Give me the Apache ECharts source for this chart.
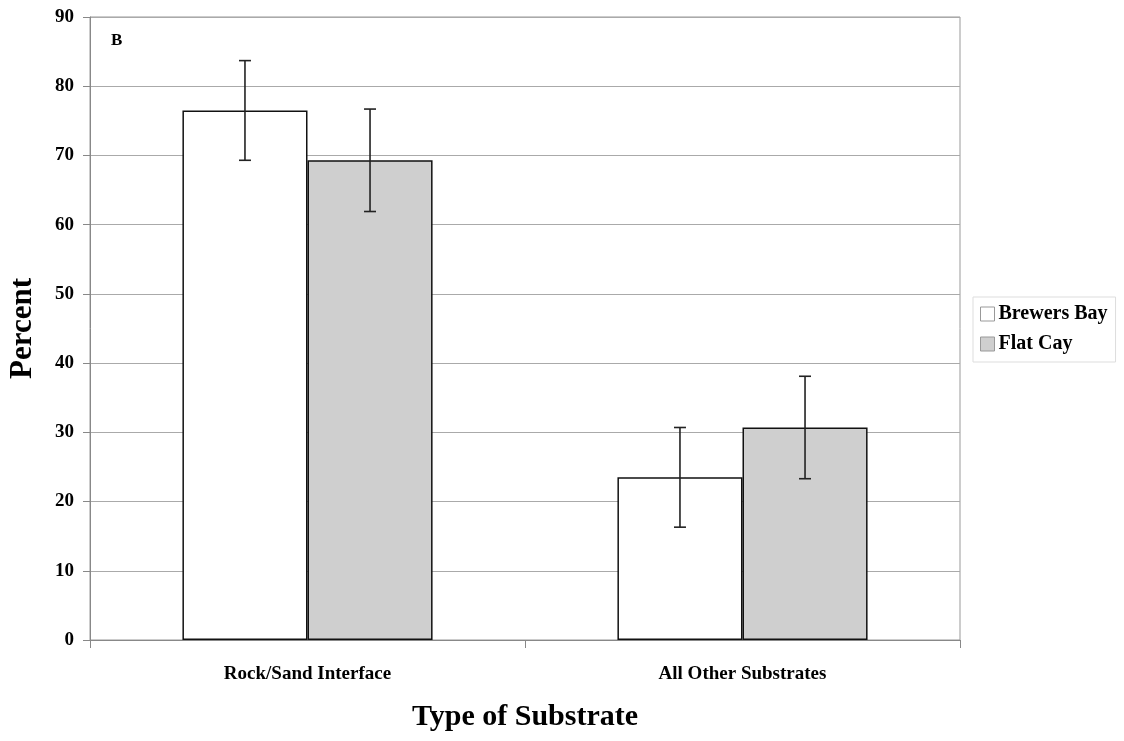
<!DOCTYPE html>
<html><head><meta charset="utf-8">
<script src="https://cdn.jsdelivr.net/npm/echarts@6/dist/echarts.min.js"></script>
<style>html,body{margin:0;padding:0;background:#fff}#c{width:1124px;height:741px}</style>
</head><body><div id="c"></div>
<script>
const categories = ['Rock/Sand Interface', 'All Other Substrates'];
const seriesNames = ['Brewers Bay', 'Flat Cay'];
const brewersBay = [76.5, 23.5];
const flatCay = [69.3, 30.7];
const brewersErr = [7.2, 7.2];
const flatErr = [7.4, 7.4];
const yTicks = [0, 10, 20, 30, 40, 50, 60, 70, 80, 90];

const FONT = '"Liberation Serif", "Times New Roman", serif';
const GAP = 0.425;
const chart = echarts.init(document.getElementById('c'));

function errSeries(vals, errs, side) {
  return {
    type: 'custom',
    silent: true,
    z: 10,
    data: vals.map((v, i) => [i, v - errs[i], v + errs[i]]),
    renderItem: function (params, api) {
      const band = api.size([1, 0])[0];
      const bw = band * (1 - GAP) / 2;
      const c = api.coord([api.value(0), 0]);
      const x = c[0] + side * bw / 2;
      const lo = api.coord([api.value(0), api.value(1)])[1];
      const hi = api.coord([api.value(0), api.value(2)])[1];
      const cap = 6;
      const st = { stroke: '#222', lineWidth: 1.6 };
      return { type: 'group', children: [
        { type: 'line', shape: { x1: x, y1: lo, x2: x, y2: hi }, style: st },
        { type: 'line', shape: { x1: x - cap, y1: lo, x2: x + cap, y2: lo }, style: st },
        { type: 'line', shape: { x1: x - cap, y1: hi, x2: x + cap, y2: hi }, style: st }
      ]};
    }
  };
}

chart.setOption({
  animation: false,
  backgroundColor: '#fff',
  grid: { left: 90, right: 164, top: 17, bottom: 101, containLabel: false, outerBoundsMode: 'none',
    show: true, borderColor: '#999', borderWidth: 1, backgroundColor: 'transparent' },
  legend: {
    orient: 'vertical', left: 973, top: 297,
    data: seriesNames,
    itemWidth: 14, itemHeight: 14, itemGap: 10,
    padding: [7, 8, 8, 7],
    borderColor: '#ddd', borderWidth: 1,
    itemStyle: { borderColor: '#999', borderWidth: 1 },
    textStyle: { fontFamily: FONT, fontWeight: 'bold', fontSize: 20, color: '#000', padding: [0, 0, 0, -1] },
    icon: 'rect'
  },
  graphic: [{ type: 'text', left: 111, top: 32, style: { text: 'B', font: 'bold 17px ' + FONT, fill: '#000' } }],
  xAxis: {
    type: 'category', data: categories,
    name: 'Type of Substrate', nameLocation: 'middle', nameGap: 62,
    nameTextStyle: { fontFamily: FONT, fontWeight: 'bold', fontSize: 30, color: '#000' },
    axisLine: { lineStyle: { color: '#888' } },
    axisTick: { show: true, length: 8, lineStyle: { color: '#888' } },
    axisLabel: { fontFamily: FONT, fontWeight: 'bold', fontSize: 19, color: '#000', margin: 25 }
  },
  yAxis: {
    type: 'value', min: 0, max: 90, interval: 10,
    name: 'Percent', nameLocation: 'middle', nameGap: 52,
    nameTextStyle: { fontFamily: FONT, fontWeight: 'bold', fontSize: 31, color: '#000' },
    axisLine: { show: true, lineStyle: { color: '#888' } },
    axisTick: { show: true, length: 7, lineStyle: { color: '#888' } },
    splitLine: { lineStyle: { color: '#aaa' } },
    axisLabel: { fontFamily: FONT, fontWeight: 'bold', fontSize: 19, color: '#000', margin: 16,
      formatter: v => yTicks.includes(v) ? String(v) : '' }
  },
  series: [
    { name: seriesNames[0], type: 'bar', data: brewersBay, barGap: '0%', barCategoryGap: (GAP * 100) + '%',
      itemStyle: { color: '#fff', borderColor: '#111', borderWidth: 1.5 } },
    { name: seriesNames[1], type: 'bar', data: flatCay, barGap: '0%', barCategoryGap: (GAP * 100) + '%',
      itemStyle: { color: '#cfcfcf', borderColor: '#111', borderWidth: 1.5 } },
    errSeries(brewersBay, brewersErr, -1),
    errSeries(flatCay, flatErr, 1)
  ]
});
</script></body></html>
